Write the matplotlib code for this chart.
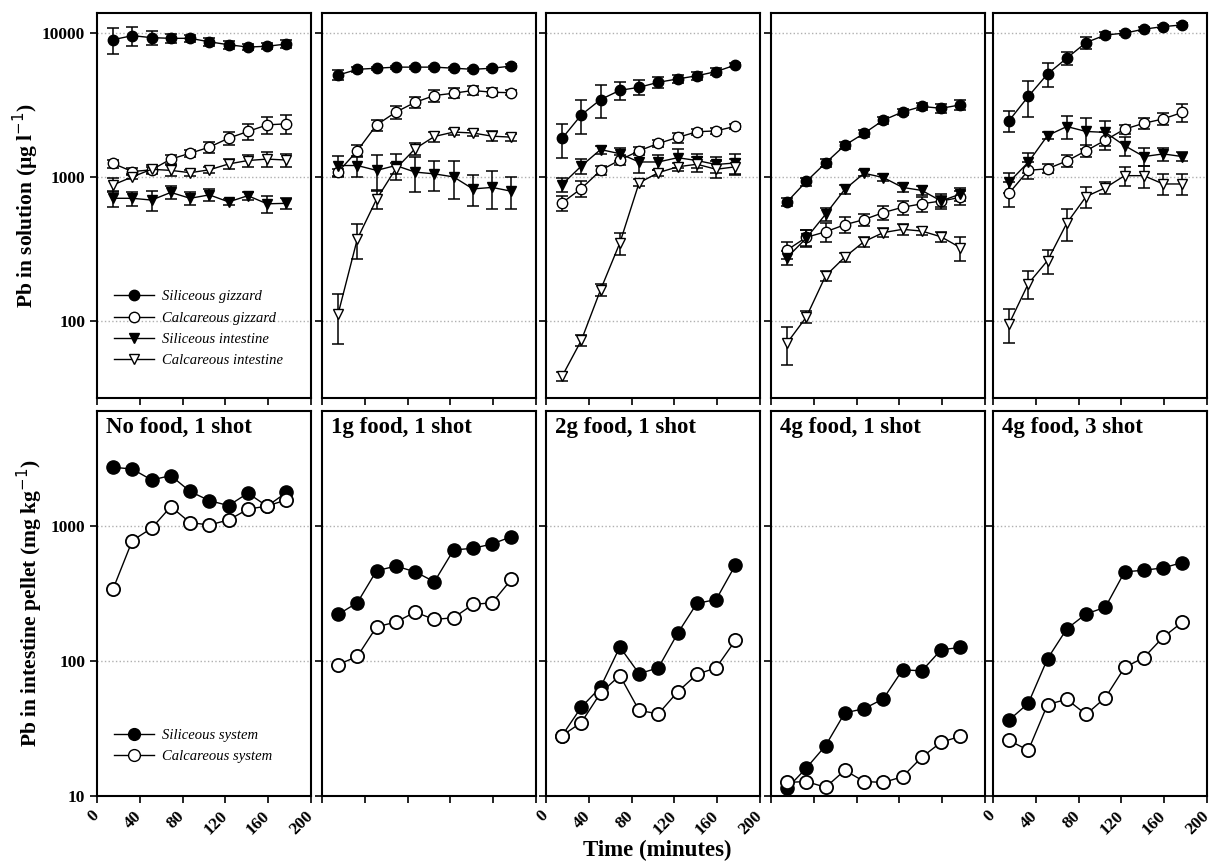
import matplotlib
matplotlib.use("Agg")
import matplotlib.pyplot as plt
from matplotlib.ticker import FixedLocator, NullLocator
from matplotlib.lines import Line2D
from matplotlib.transforms import ScaledTranslation

plt.rcParams['font.family'] = ['Liberation Serif', 'DejaVu Serif']

# sampling times (minutes)
time = [15, 33, 51, 69, 87, 105, 123, 141, 159, 177]

titles = ["No food, 1 shot", "1g food, 1 shot", "2g food, 1 shot",
          "4g food, 1 shot", "4g food, 3 shot"]

# ---- top row: Pb in solution (ug/l) ----
sil_giz = [
    [9000, 9600, 9300, 9200, 9200, 8700, 8300, 8000, 8100, 8400],
    [5100, 5600, 5700, 5800, 5800, 5800, 5700, 5600, 5700, 5900],
    [1850, 2700, 3450, 4000, 4200, 4550, 4800, 5050, 5400, 6000],
    [670, 930, 1250, 1660, 2010, 2480, 2830, 3090, 3000, 3170],
    [2460, 3630, 5200, 6700, 8600, 9700, 10000, 10650, 11100, 11400],
]
sil_giz_err = [
    [1800, 1500, 1000, 700, 500, 600, 500, 400, 400, 500],
    [400, 200, 150, 150, 150, 150, 150, 150, 150, 150],
    [500, 700, 900, 600, 500, 400, 300, 300, 300, 200],
    [40, 60, 80, 100, 120, 150, 150, 150, 200, 250],
    [400, 1000, 1000, 700, 800, 400, 300, 300, 300, 400],
]
cal_giz = [
    [1240, 1090, 1120, 1330, 1460, 1610, 1860, 2070, 2300, 2340],
    [1080, 1520, 2300, 2820, 3300, 3680, 3820, 3990, 3880, 3850],
    [660, 830, 1110, 1310, 1520, 1710, 1880, 2060, 2090, 2250],
    [310, 380, 415, 465, 505, 565, 615, 650, 680, 720],
    [770, 1110, 1140, 1290, 1520, 1800, 2150, 2360, 2530, 2810],
]
cal_giz_err = [
    [80, 60, 60, 100, 80, 150, 200, 250, 300, 350],
    [60, 150, 200, 300, 300, 350, 300, 300, 250, 150],
    [80, 100, 80, 100, 100, 100, 150, 100, 100, 100],
    [40, 50, 60, 60, 50, 60, 70, 80, 80, 80],
    [150, 150, 80, 120, 150, 250, 150, 200, 250, 400],
]
sil_int = [
    [710, 710, 690, 780, 710, 750, 670, 740, 650, 655],
    [1200, 1200, 1110, 1200, 1080, 1050, 1000, 825, 845, 795],
    [885, 1190, 1550, 1450, 1270, 1270, 1360, 1300, 1220, 1250],
    [275, 375, 550, 820, 1060, 990, 845, 805, 680, 760],
    [920, 1265, 1940, 2240, 2070, 2040, 1650, 1385, 1445, 1385],
]
sil_int_err = [
    [90, 80, 110, 80, 70, 70, 30, 50, 90, 60],
    [200, 200, 300, 250, 300, 250, 300, 200, 250, 200],
    [100, 150, 100, 150, 200, 150, 200, 150, 150, 200],
    [30, 50, 60, 60, 50, 60, 60, 60, 60, 80],
    [150, 200, 100, 400, 500, 400, 250, 200, 150, 100],
]
cal_int = [
    [880, 1000, 1130, 1110, 1070, 1120, 1230, 1300, 1330, 1310],
    [111, 370, 700, 1140, 1570, 1910, 2050, 2020, 1920, 1890],
    [41, 73, 164, 347, 910, 1070, 1175, 1225, 1130, 1175],
    [70, 106, 205, 277, 355, 410, 432, 420, 383, 322],
    [95, 181, 262, 477, 730, 840, 1020, 1020, 893, 893],
]
cal_int_err = [
    [100, 40, 80, 100, 50, 60, 100, 120, 150, 130],
    [42, 100, 100, 100, 150, 150, 100, 100, 150, 100],
    [3, 6, 15, 60, 50, 50, 80, 150, 150, 150],
    [21, 10, 15, 20, 30, 30, 35, 25, 30, 60],
    [25, 40, 50, 120, 120, 80, 150, 180, 150, 150],
]

# ---- bottom row: Pb in intestine pellet (mg/kg) ----
sil_sys = [
    [2720, 2640, 2190, 2360, 1800, 1540, 1415, 1750, 1400, 1770],
    [221, 270, 466, 504, 458, 386, 664, 683, 735, 833],
    [28, 45.5, 64, 127, 80.5, 89, 160, 267, 285, 513],
    [11.4, 16.1, 23.6, 41.3, 44.3, 52.5, 86, 84.5, 121, 126],
    [36.5, 48.6, 104, 173, 223, 250, 457, 470, 489, 536],
]
cal_sys = [
    [341, 779, 961, 1390, 1058, 1017, 1108, 1329, 1406, 1558],
    [94, 108, 179, 194, 230, 203, 209, 262, 270, 402],
    [28, 35, 58, 78, 43, 40.6, 59, 79.6, 89, 142],
    [12.6, 12.8, 11.6, 15.5, 12.8, 12.6, 13.9, 19.4, 25, 27.7],
    [25.8, 21.8, 47.6, 52, 40.2, 53.5, 89.5, 106, 150, 194],
]

W, H = 1214, 863
fig = plt.figure(figsize=(W / 100, H / 100), dpi=100)

lefts = [97, 322, 546, 771, 993]
pw = 214

def style_ax(ax, yticks, ylabels, show_y):
    ax.set_yscale('log')
    ax.set_xlim(0, 200)
    ax.xaxis.set_major_locator(FixedLocator([0, 40, 80, 120, 160, 200]))
    ax.yaxis.set_major_locator(FixedLocator(yticks))
    ax.yaxis.set_minor_locator(NullLocator())
    ax.set_yticklabels(ylabels if show_y else [])
    ax.tick_params(direction='out', length=5, width=1.2, labelsize=12.5)
    for lab in ax.get_yticklabels():
        lab.set_fontweight('bold')
    for s in ax.spines.values():
        s.set_linewidth(1.5)
    ax.grid(axis='y', which='major', linestyle=':', color='#b0b0b0', linewidth=1)
    ax.set_axisbelow(True)

def legend_handle(marker, fill, ms):
    return Line2D([], [], color='black', lw=1, marker=marker, mfc=fill,
                  mec='black', ms=ms)

leg_kw = dict(loc='center left', frameon=False, prop=dict(style='italic', size=10.5),
              handlelength=2.8, labelspacing=0.55, borderpad=0.2, handletextpad=0.5)

eb = dict(capsize=4, elinewidth=1.1, capthick=1.1, color='black', lw=1, ms=7.5)
shift = ScaledTranslation(5 / 100, 0, fig.dpi_scale_trans)

for i in range(5):
    # top row
    ax = fig.add_axes([lefts[i] / W, 1 - 398 / H, pw / W, 385 / H])
    ax.errorbar(time, sil_giz[i], yerr=sil_giz_err[i], marker='o', mfc='black',
                mec='black', **eb)
    ax.errorbar(time, cal_giz[i], yerr=cal_giz_err[i], marker='o', mfc='white',
                mec='black', **eb)
    ax.errorbar(time, sil_int[i], yerr=sil_int_err[i], marker='v', mfc='black',
                mec='black', **eb)
    ax.errorbar(time, cal_int[i], yerr=cal_int_err[i], marker='v', mfc='white',
                mec='black', **eb)
    ax.set_ylim(29, 13800)
    style_ax(ax, [100, 1000, 10000], ['100', '1000', '10000'], i == 0)
    ax.set_xticklabels([])
    if i == 0:
        ax.set_ylabel('Pb in solution (\u00b5g l$^{-1}$)', fontsize=15.5,
                      fontweight='bold', labelpad=1)
        handles = [legend_handle('o', 'black', 7.5), legend_handle('o', 'white', 7.5),
                   legend_handle('v', 'black', 7.5), legend_handle('v', 'white', 7.5)]
        ax.legend(handles, ['Siliceous gizzard', 'Calcareous gizzard',
                            'Siliceous intestine', 'Calcareous intestine'],
                  bbox_to_anchor=(0.03, 0.18), **leg_kw)

    # bottom row
    bx = fig.add_axes([lefts[i] / W, 1 - 796 / H, pw / W, 385 / H])
    bx.plot(time, sil_sys[i], marker='o', color='black', mfc='black', mec='black',
            ms=9.5, lw=1)
    bx.plot(time, cal_sys[i], marker='o', color='black', mfc='white', mec='black',
            ms=9.5, mew=1.3, lw=1)
    bx.set_ylim(10, 7100)
    style_ax(bx, [10, 100, 1000], ['10', '100', '1000'], i == 0)
    if i % 2 == 0:
        bx.set_xticklabels(['0', '40', '80', '120', '160', '200'], rotation=45,
                           ha='right', fontweight='bold')
        for lab in bx.get_xticklabels():
            lab.set_transform(lab.get_transform() + shift)
    else:
        bx.set_xticklabels([])
    bx.text(0.04, 0.985, titles[i], transform=bx.transAxes, ha='left', va='top',
            fontsize=16.5, fontweight='bold')
    if i == 0:
        bx.set_ylabel('Pb in intestine pellet (mg kg$^{-1}$)', fontsize=15.5,
                      fontweight='bold', labelpad=4)
        handles = [legend_handle('o', 'black', 8.5), legend_handle('o', 'white', 8.5)]
        bx.legend(handles, ['Siliceous system', 'Calcareous system'],
                  bbox_to_anchor=(0.03, 0.13), **leg_kw)

fig.text(657 / W, 1 - 850 / H, 'Time (minutes)', ha='center', va='center',
         fontsize=16.5, fontweight='bold')

fig.savefig('out.png', dpi=100)
